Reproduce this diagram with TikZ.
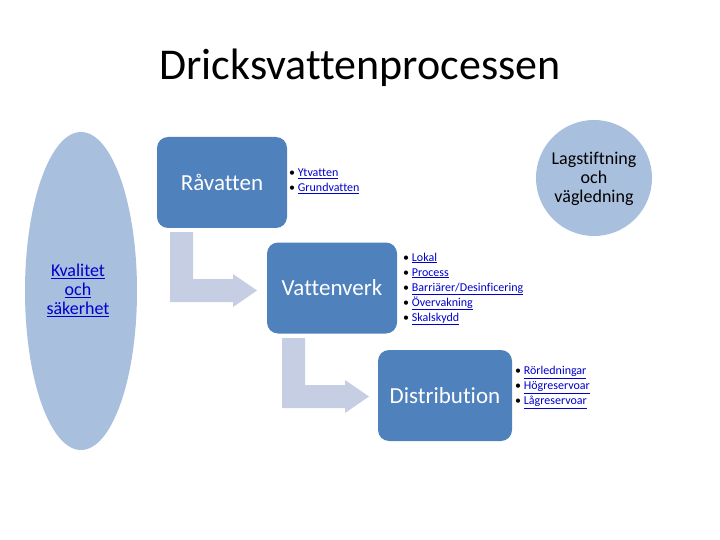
\documentclass[tikz,border=0pt]{standalone}
\usepackage{fontspec}
\setmainfont{Carlito}[Ligatures=NoCommon]
\usetikzlibrary{shapes.geometric}
\definecolor{boxblue}{HTML}{4F81BD}
\definecolor{lightblue}{HTML}{A9BFDE}
\definecolor{arrowblue}{HTML}{C5CEE2}
\definecolor{linkblue}{HTML}{0000CC}
\newcommand{\lnk}[1]{\textcolor{linkblue}{\underline{#1}}}
\tikzset{
  stepbox/.style={draw=none, fill=boxblue, rounded corners=11pt, minimum width=130pt, minimum height=91pt, text=white, font=\fontsize{23}{27}\selectfont},
  bullets/.style={anchor=west, align=left, inner sep=0pt, font=\fontsize{12}{15}\selectfont},
  bent/.style={fill=arrowblue, draw=none}
}
\begin{document}
\begin{tikzpicture}[x=1pt,y=-1pt]
\useasboundingbox (0,0) rectangle (720,540);
\node (title) at (360,68) {\fontsize{44}{50}\selectfont Dricksvattenprocessen};

\node[ellipse, fill=lightblue, minimum width=112pt, minimum height=318pt, inner sep=0pt] (qual) at (81,291) {};
\node[align=center, font=\fontsize{18}{19}\selectfont] (qualtext) at (78,290) {\lnk{Kvalitet}\\\lnk{och}\\\lnk{säkerhet}};

\node[circle, fill=lightblue, minimum size=116pt, inner sep=0pt] (law) at (594,178) {};
\node[align=center, font=\fontsize{18}{19}\selectfont, text=black] (lawtext) at (594,179) {Lagstiftning\\och\\vägledning};

\node[stepbox] (raw) at (222,182.5) {Råvatten};
\node[stepbox] (plant) at (332,288) {Vattenverk};
\node[stepbox, minimum width=134pt] (dist) at (445,395.5) {Distribution};

\path[bent] (170,232) -- (193,232) -- (193,279) -- (233,279) -- (233,274) -- (257,290.5) -- (233,307) -- (233,302) -- (170,302) -- cycle;
\path[bent] (282,338) -- (305,338) -- (305,385) -- (345,385) -- (345,380) -- (369,396.5) -- (345,413) -- (345,408) -- (282,408) -- cycle;

\node[bullets] (rawlist) at (289,181.5) {• \lnk{Ytvatten}\\• \lnk{Grundvatten}};
\node[bullets] (plantlist) at (403,289) {• \lnk{Lokal}\\• \lnk{Process}\\• \lnk{Barriärer/Desinficering}\\• \lnk{Övervakning}\\• \lnk{Skalskydd}};
\node[bullets] (distlist) at (515,387.5) {• \lnk{Rörledningar}\\• \lnk{Högreservoar}\\• \lnk{Lågreservoar}};
\end{tikzpicture}
\end{document}
